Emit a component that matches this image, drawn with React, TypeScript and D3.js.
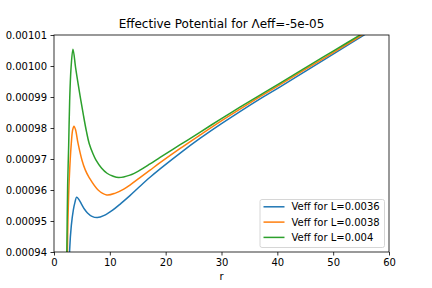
import { useRef, useEffect } from 'react'
import * as d3 from 'd3';

// values (r, Veff)
const rBlue = [2.65, 2.8, 3.1, 3.46, 3.75, 4.06, 4.5, 5.0, 5.5, 6.0, 6.8, 7.76, 9.0, 10.5, 12.0, 13.6, 15.4, 17.2, 19.0, 22.6, 26.2, 30.0, 33.3, 36.9, 40.5, 45, 50, 55, 60];
const vBlue = [0.000925, 0.0009406, 0.0009485, 0.0009535, 0.000956, 0.0009577, 0.0009568, 0.0009552, 0.0009537, 0.0009526, 0.0009515, 0.0009511, 0.0009518, 0.0009535, 0.0009557, 0.0009582, 0.0009612, 0.0009641, 0.0009668, 0.0009719, 0.0009767, 0.0009814, 0.0009853, 0.0009894, 0.0009933, 0.0009983, 0.0010038, 0.0010094, 0.001015];

const rOrange = [2.3, 2.4, 2.5, 2.75, 3.1, 3.35, 3.58, 3.85, 4.3, 5.0, 5.6, 6.3, 7.9, 9.45, 11.0, 12.5, 13.6, 15.4, 17.2, 19.0, 22.6, 26.2, 29.7, 33.3, 36.9, 40.5, 45, 50, 55, 60];
const vOrange = [0.000925, 0.00094, 0.0009503, 0.0009643, 0.0009751, 0.0009795, 0.0009806, 0.0009795, 0.0009751, 0.0009697, 0.0009665, 0.000964, 0.00096, 0.0009584, 0.000959, 0.0009603, 0.0009616, 0.000964, 0.0009664, 0.0009688, 0.0009734, 0.0009778, 0.000982, 0.0009861, 0.0009901, 0.000994, 0.0009989, 0.0010043, 0.0010098, 0.0010153];

const rGreen = [2.2, 2.3, 2.45, 2.63, 2.8, 3.05, 3.4, 3.88, 4.3, 4.8, 5.3, 5.8, 6.3, 7.0, 7.5, 8.5, 9.5, 10.5, 11.6, 13.6, 15.4, 17.2, 19.0, 22.6, 26.2, 29.7, 33.3, 36.9, 40.5, 45, 50, 55, 60];
const vGreen = [0.000925, 0.00094, 0.000962, 0.0009745, 0.0009885, 0.0009993, 0.0010054, 0.0009993, 0.0009945, 0.000989, 0.0009838, 0.000979, 0.000975, 0.0009716, 0.0009697, 0.0009671, 0.0009654, 0.0009645, 0.000964, 0.0009648, 0.0009664, 0.0009684, 0.0009705, 0.0009746, 0.0009787, 0.0009827, 0.0009867, 0.0009906, 0.0009945, 0.0009994, 0.0010048, 0.0010102, 0.0010156];

const seriesNames = ["Veff for L=0.0036", "Veff for L=0.0038", "Veff for L=0.004"];
const seriesColors = ["#1f77b4", "#ff7f0e", "#2ca02c"];
const xTicks = [0, 10, 20, 30, 40, 50, 60];
const yTicks = [0.00094, 0.00095, 0.00096, 0.00097, 0.00098, 0.00099, 0.001, 0.00101];

function App() {

    const d3Container = useRef(null);

    const width = 432;
    const height = 288;

    useEffect(() => {

        const marginTop = 35;
        const marginRight = 43;
        const marginBottom = 36;
        const marginLeft = 54;

        const svg = d3.select(d3Container.current);
        svg.selectAll("*").remove();

        const x = d3.scaleLinear()
                    .domain([0, 60])
                    .range([marginLeft, width - marginRight]);

        const y = d3.scaleLinear()
                    .domain([0.00094, 0.00101])
                    .range([height - marginBottom, marginTop]);

        svg.append("defs")
           .append("clipPath")
           .attr("id", "plot-clip")
           .append("rect")
           .attr("x", marginLeft)
           .attr("y", marginTop)
           .attr("width", width - marginLeft - marginRight)
           .attr("height", height - marginTop - marginBottom);

        const series = [
            rBlue.map((r, i) => [r, vBlue[i]]),
            rOrange.map((r, i) => [r, vOrange[i]]),
            rGreen.map((r, i) => [r, vGreen[i]])
        ];

        const line = d3.line()
                       .x((d) => x(d[0]))
                       .y((d) => y(d[1]))
                       .curve(d3.curveCatmullRom.alpha(0.5));

        svg.append("g")
           .attr("clip-path", "url(#plot-clip)")
           .selectAll("path")
           .data(series)
           .join("path")
           .attr("fill", "none")
           .attr("stroke", (d, i) => seriesColors[i])
           .attr("stroke-width", 1.5)
           .attr("d", line);

        // x-axis
        svg.append("g")
           .attr("transform", `translate(0,${height - marginBottom})`)
           .call(d3.axisBottom(x).tickValues(xTicks).tickSize(3.5).tickPadding(3.5).tickSizeOuter(0))
           .call((g) => g.selectAll("text").attr("font-size", 10).attr("fill", "#000"))
           .call((g) => g.select(".domain").remove());

        // y-axis
        svg.append("g")
           .attr("transform", `translate(${marginLeft},0)`)
           .call(d3.axisLeft(y).tickValues(yTicks).tickFormat(d3.format(".5f")).tickSize(3.5).tickPadding(3.5).tickSizeOuter(0))
           .call((g) => g.selectAll("text").attr("font-size", 10).attr("fill", "#000"))
           .call((g) => g.select(".domain").remove());

        svg.selectAll(".tick line").attr("stroke", "#000").attr("stroke-width", 0.8);

        // frame
        svg.append("rect")
           .attr("x", marginLeft)
           .attr("y", marginTop)
           .attr("width", width - marginLeft - marginRight)
           .attr("height", height - marginTop - marginBottom)
           .attr("fill", "none")
           .attr("stroke", "#000")
           .attr("stroke-width", 0.8);

        svg.append("text")
           .attr("x", (marginLeft + width - marginRight) / 2)
           .attr("y", 280)
           .attr("text-anchor", "middle")
           .attr("font-size", 10)
           .text("r");

        svg.append("text")
           .attr("x", (marginLeft + width - marginRight) / 2)
           .attr("y", 28)
           .attr("text-anchor", "middle")
           .attr("font-size", 12)
           .text("Effective Potential for Λeff=-5e-05");

        // legend
        const legend = svg.append("g").attr("transform", "translate(260,199.5)");
        legend.append("rect")
              .attr("width", 124.5)
              .attr("height", 48)
              .attr("rx", 2)
              .attr("fill", "#fff")
              .attr("fill-opacity", 0.8)
              .attr("stroke", "#cccccc")
              .attr("stroke-width", 0.8);

        const items = legend.selectAll("g.item")
                            .data(seriesNames)
                            .join("g")
                            .attr("class", "item")
                            .attr("transform", (d, i) => `translate(0,${7.3 + i * 15.3})`);
        items.append("line")
             .attr("x1", 3.5).attr("x2", 24.5)
             .attr("stroke", (d, i) => seriesColors[i])
             .attr("stroke-width", 1.5);
        items.append("text")
             .attr("x", 31.5)
             .attr("dy", "0.35em")
             .attr("font-size", 10)
             .text((d) => d);
    });

    return (
        <>
            <style>{`body { margin: 0; } svg text { font-family: "DejaVu Sans", sans-serif; }`}</style>
            <svg width={width}
                 height={height}
                 ref={d3Container}
                 style={{ display: "block", fontFamily: "DejaVu Sans" }} />
        </>
    )
}

export default App;
